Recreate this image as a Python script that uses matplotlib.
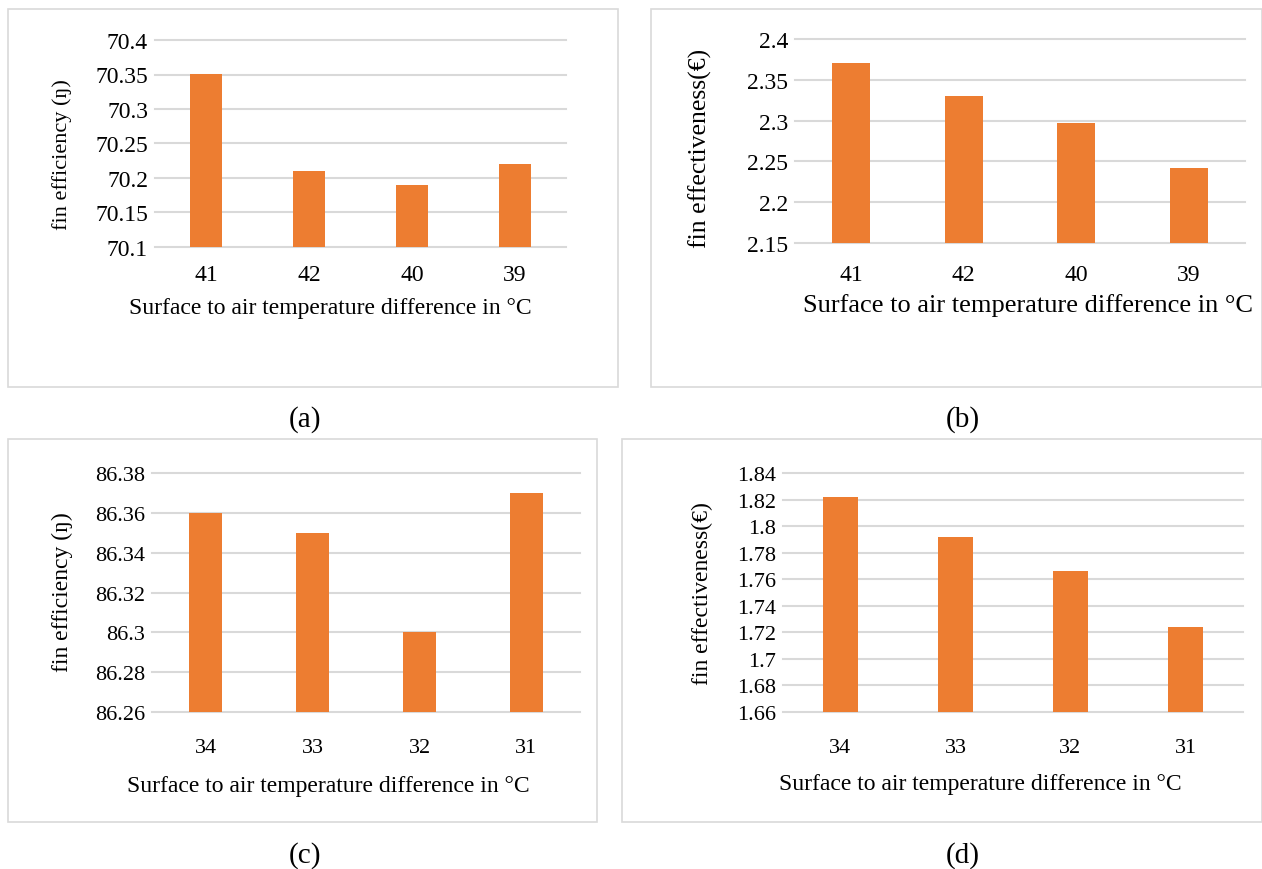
import numpy as np
import matplotlib
matplotlib.use("Agg")
import matplotlib.pyplot as plt
from matplotlib.patches import Rectangle

plt.rcParams['font.family'] = ['Liberation Serif', 'DejaVu Serif']

W, H = 1262, 870
ORANGE = "#ed7d31"
GRID = "#d9d9d9"

# data
cats_ab = ["41", "42", "40", "39"]
eff_a = [70.35, 70.21, 70.19, 70.22]
effv_b = [2.37, 2.33, 2.297, 2.242]
cats_cd = ["34", "33", "32", "31"]
eff_c = [86.36, 86.35, 86.30, 86.37]
effv_d = [1.822, 1.792, 1.766, 1.724]

ticks_a = [70.1, 70.15, 70.2, 70.25, 70.3, 70.35, 70.4]
ticks_b = [2.15, 2.2, 2.25, 2.3, 2.35, 2.4]
ticks_c = [86.26, 86.28, 86.3, 86.32, 86.34, 86.36, 86.38]
ticks_d = [1.66, 1.68, 1.7, 1.72, 1.74, 1.76, 1.78, 1.8, 1.82, 1.84]

fig = plt.figure(figsize=(W / 100, H / 100), dpi=100)


def px(x0, y0, x1, y1):
    return [x0 / W, 1 - y1 / H, (x1 - x0) / W, (y1 - y0) / H]


def box(x0, y0, x1, y1):
    fig.patches.append(Rectangle((x0 / W, 1 - y1 / H), (x1 - x0) / W, (y1 - y0) / H,
                                 transform=fig.transFigure, fill=False,
                                 edgecolor=GRID, lw=1.2))


def panel(rect, cats, vals, ticks, width, fs, xpad, ylab, ylab_xy, yfs, xlab, xlab_xy, xfs):
    ax = fig.add_axes(px(*rect))
    x = np.arange(len(cats))
    ax.bar(x, [v - ticks[0] for v in vals], bottom=ticks[0], width=width,
           color=ORANGE, zorder=3)
    ax.set_xlim(-0.5, len(cats) - 0.5)
    ax.set_ylim(ticks[0], ticks[-1])
    ax.set_yticks(ticks)
    ax.set_yticklabels([f"{t:g}" for t in ticks], fontsize=fs)
    ax.set_xticks(x)
    ax.set_xticklabels(cats, fontsize=fs)
    for t in ticks:
        ax.axhline(t, color=GRID, lw=1.5, zorder=1, clip_on=False)
    for s in ax.spines.values():
        s.set_visible(False)
    ax.tick_params(axis="y", length=0, pad=5)
    ax.tick_params(axis="x", length=0, pad=xpad)
    ax.patch.set_alpha(0)
    fig.text(ylab_xy[0] / W, 1 - ylab_xy[1] / H, ylab, rotation=90, fontsize=yfs,
             ha="center", va="center")
    fig.text(xlab_xy[0] / W, 1 - xlab_xy[1] / H, xlab, fontsize=xfs, ha="center", va="center")
    return ax


xl = "Surface to air temperature difference in \u00b0C"

box(8, 10, 618, 388)
box(651, 10, 1262, 388)
box(8, 440, 597, 823)
box(622, 440, 1262, 823)

panel((155, 41, 566, 248), cats_ab, eff_a, ticks_a, 0.31, 17, 12,
      "fin efficiency (\u014b)", (62, 155), 16, xl, (330, 309), 17)
panel((795, 40, 1245, 244), cats_ab, effv_b, ticks_b, 0.34, 17, 15,
      "fin effectiveness(\u20ac)", (700, 148), 18.5, xl, (1028, 306), 19)
panel((152, 474, 580, 713), cats_cd, eff_c, ticks_c, 0.30, 16, 19,
      "fin efficiency (\u014b)", (62, 592), 17, xl, (328, 787), 17)
panel((783, 474, 1243, 713), cats_cd, effv_d, ticks_d, 0.31, 16, 19,
      "fin effectiveness(\u20ac)", (702, 594), 17, xl, (980, 785), 17)

for lab, xx, yy in [("(a)", 305, 420), ("(b)", 963, 420), ("(c)", 305, 856), ("(d)", 963, 856)]:
    fig.text(xx / W, 1 - yy / H, lab, fontsize=21, ha="center", va="center")

fig.savefig("out.png", dpi=100)
